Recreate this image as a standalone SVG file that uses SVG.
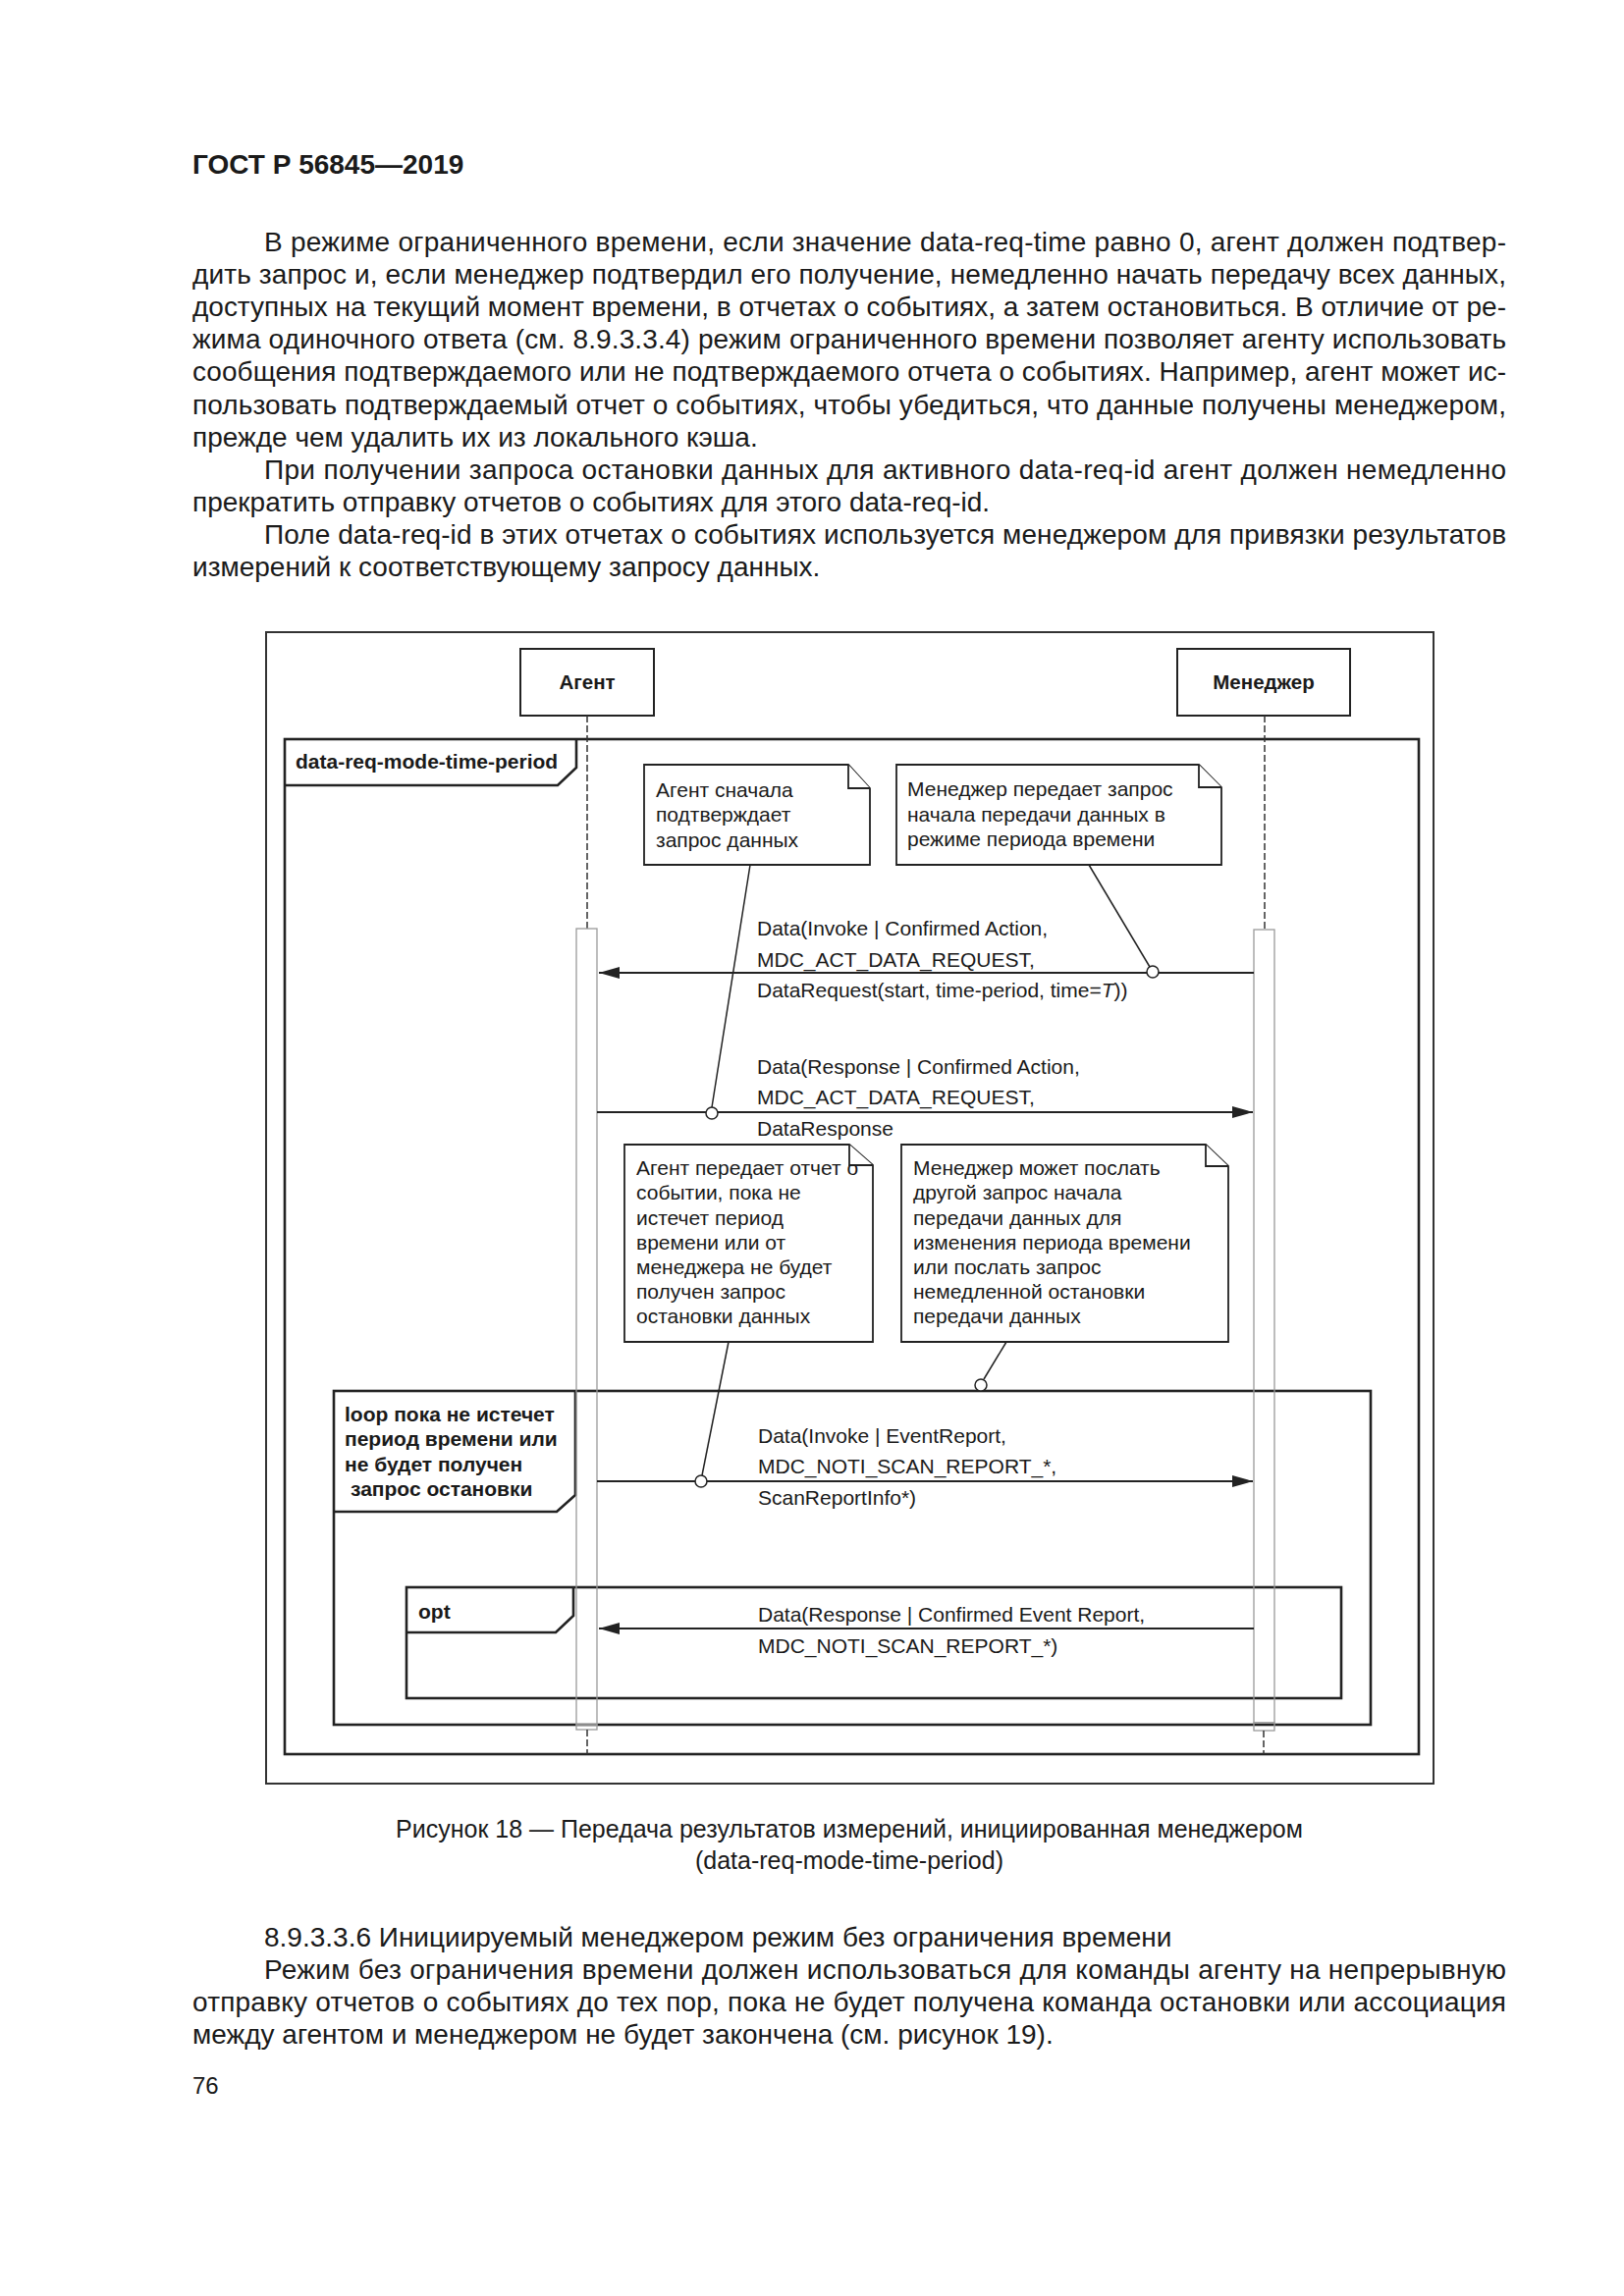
<svg xmlns="http://www.w3.org/2000/svg" width="1654" height="2339" viewBox="0 0 1654 2339">
<defs>
<style>
.body{font-family:"Liberation Sans",Arial,sans-serif;font-size:28px;fill:#1a1a1a}
.hdr{font-family:"Liberation Sans",Arial,sans-serif;font-size:28px;font-weight:bold;fill:#1a1a1a}
.cap{font-family:"Liberation Sans",Arial,sans-serif;font-size:25px;fill:#1a1a1a}
.pg{font-family:"Liberation Sans",Arial,sans-serif;font-size:24px;fill:#1a1a1a}
.lbl{font-family:"Liberation Sans",Arial,sans-serif;font-size:21px;fill:#1a1a1a}
.note{font-family:"Liberation Sans",Arial,sans-serif;font-size:21px;fill:#1a1a1a}
.bold{font-family:"Liberation Sans",Arial,sans-serif;font-size:21px;font-weight:bold;fill:#1a1a1a}
.name{font-family:"Liberation Sans",Arial,sans-serif;font-size:20.5px;font-weight:bold;fill:#1a1a1a}
.frame{fill:none;stroke:#222;stroke-width:2.6}
.outer{fill:none;stroke:#333;stroke-width:2}
.box{fill:#fff;stroke:#222;stroke-width:2}
.notebox{fill:#fff;stroke:#222;stroke-width:1.8}
.life{stroke:#333;stroke-width:1.5;stroke-dasharray:7 3;fill:none}
.act{fill:none;stroke:#9a9a9a;stroke-width:1.3}
.msg{stroke:#222;stroke-width:2.2;fill:none}
.link{stroke:#222;stroke-width:1.5;fill:none}
.dot{fill:#fff;stroke:#222;stroke-width:1.5}
</style>
<marker id="arrow" viewBox="0 0 21 12" refX="21" refY="6" markerWidth="21" markerHeight="12" markerUnits="userSpaceOnUse" orient="auto">
<path d="M0,0 L21,6 L0,12 Z" fill="#222"/>
</marker>
</defs>
<rect width="1654" height="2339" fill="#fff"/>

<g id="page-text">
<text class="hdr" x="196" y="177">ГОСТ Р 56845—2019</text>
<text class="body" x="269" y="256" textLength="1265" lengthAdjust="spacing">В режиме ограниченного времени, если значение data-req-time равно 0, агент должен подтвер-</text>
<text class="body" x="196" y="289" textLength="1338" lengthAdjust="spacing">дить запрос и, если менеджер подтвердил его получение, немедленно начать передачу всех данных,</text>
<text class="body" x="196" y="322" textLength="1338" lengthAdjust="spacing">доступных на текущий момент времени, в отчетах о событиях, а затем остановиться. В отличие от ре-</text>
<text class="body" x="196" y="355" textLength="1338" lengthAdjust="spacing">жима одиночного ответа (см. 8.9.3.3.4) режим ограниченного времени позволяет агенту использовать</text>
<text class="body" x="196" y="388" textLength="1338" lengthAdjust="spacing">сообщения подтверждаемого или не подтверждаемого отчета о событиях. Например, агент может ис-</text>
<text class="body" x="196" y="422" textLength="1338" lengthAdjust="spacing">пользовать подтверждаемый отчет о событиях, чтобы убедиться, что данные получены менеджером,</text>
<text class="body" x="196" y="455">прежде чем удалить их из локального кэша.</text>
<text class="body" x="269" y="488" textLength="1265" lengthAdjust="spacing">При получении запроса остановки данных для активного data-req-id агент должен немедленно</text>
<text class="body" x="196" y="521">прекратить отправку отчетов о событиях для этого data-req-id.</text>
<text class="body" x="269" y="554" textLength="1265" lengthAdjust="spacing">Поле data-req-id в этих отчетах о событиях используется менеджером для привязки результатов</text>
<text class="body" x="196" y="587">измерений к соответствующему запросу данных.</text>

<text class="cap" x="865" y="1872" text-anchor="middle">Рисунок 18 — Передача результатов измерений, инициированная менеджером</text>
<text class="cap" x="865" y="1904" text-anchor="middle">(data-req-mode-time-period)</text>

<text class="body" x="269" y="1983">8.9.3.3.6 Инициируемый менеджером режим без ограничения времени</text>
<text class="body" x="269" y="2016" textLength="1265" lengthAdjust="spacing">Режим без ограничения времени должен использоваться для команды агенту на непрерывную</text>
<text class="body" x="196" y="2049" textLength="1338" lengthAdjust="spacing">отправку отчетов о событиях до тех пор, пока не будет получена команда остановки или ассоциация</text>
<text class="body" x="196" y="2082">между агентом и менеджером не будет закончена (см. рисунок 19).</text>
<text class="pg" x="196" y="2133">76</text>
</g>

<g id="frame-outer">
<rect class="outer" x="271" y="644" width="1189" height="1173"/>
</g>

<g id="frame-data-req">
<rect class="frame" x="290" y="753" width="1155" height="1034"/>
<path class="frame" d="M290,800 H568 L587,782 V753"/>
<text class="bold" x="301" y="783">data-req-mode-time-period</text>
</g>

<g id="frame-loop">
<rect class="frame" x="340" y="1417" width="1056" height="340"/>
<path class="frame" d="M340,1540 H567 L586,1523 V1417"/>
<text class="bold" x="351" y="1448">loop пока не истечет</text>
<text class="bold" x="351" y="1473">период времени или</text>
<text class="bold" x="351" y="1499">не будет получен</text>
<text class="bold" x="357" y="1524">запрос остановки</text>
</g>

<g id="frame-opt">
<rect class="frame" x="414" y="1617" width="952" height="113"/>
<path class="frame" d="M414,1663 H566 L584,1646 V1617"/>
<text class="bold" x="426" y="1649">opt</text>
</g>

<g id="node-agent">
<rect class="box" x="530" y="661" width="136" height="68"/>
<text class="name" x="598" y="702" text-anchor="middle">Агент</text>
<line class="life" x1="598" y1="729" x2="598" y2="946"/>
<rect class="act" x="587" y="946" width="21" height="811"/>
<rect class="act" x="587" y="1757" width="21" height="5"/>
<line class="life" x1="598" y1="1762" x2="598" y2="1787"/>
</g>

<g id="node-manager">
<rect class="box" x="1199" y="661" width="176" height="68"/>
<text class="name" x="1287" y="702" text-anchor="middle">Менеджер</text>
<line class="life" x1="1288" y1="729" x2="1288" y2="947"/>
<rect class="act" x="1277" y="947" width="21" height="808"/>
<rect class="act" x="1277" y="1755" width="21" height="8"/>
<line class="life" x1="1287" y1="1763" x2="1287" y2="1787"/>
</g>

<g id="note-1">
<path class="notebox" d="M656,779 H864 L886,803 V881 H656 Z"/>
<path class="notebox" d="M864,779 V803 H886" fill="none"/>
<text class="note" x="668" y="812">Агент сначала</text>
<text class="note" x="668" y="837">подтверждает</text>
<text class="note" x="668" y="863">запрос данных</text>
</g>

<g id="note-2">
<path class="notebox" d="M913,779 H1221 L1244,802 V881 H913 Z"/>
<path class="notebox" d="M1221,779 V802 H1244" fill="none"/>
<text class="note" x="924" y="811">Менеджер передает запрос</text>
<text class="note" x="924" y="837">начала передачи данных в</text>
<text class="note" x="924" y="862">режиме периода времени</text>
</g>

<g id="note-3">
<path class="notebox" d="M636,1166 H865 L889,1187 V1367 H636 Z"/>
<path class="notebox" d="M865,1166 V1187 H889" fill="none"/>
<text class="note" x="648" y="1197">Агент передает отчет о</text>
<text class="note" x="648" y="1222">событии, пока не</text>
<text class="note" x="648" y="1248">истечет период</text>
<text class="note" x="648" y="1273">времени или от</text>
<text class="note" x="648" y="1298">менеджера не будет</text>
<text class="note" x="648" y="1323">получен запрос</text>
<text class="note" x="648" y="1348">остановки данных</text>
</g>

<g id="note-4">
<path class="notebox" d="M918,1166 H1228 L1251,1188 V1367 H918 Z"/>
<path class="notebox" d="M1228,1166 V1188 H1251" fill="none"/>
<text class="note" x="930" y="1197">Менеджер может послать</text>
<text class="note" x="930" y="1222">другой запрос начала</text>
<text class="note" x="930" y="1248">передачи данных для</text>
<text class="note" x="930" y="1273">изменения периода времени</text>
<text class="note" x="930" y="1298">или послать запрос</text>
<text class="note" x="930" y="1323">немедленной остановки</text>
<text class="note" x="930" y="1348">передачи данных</text>
</g>

<g id="connectors">
<line class="msg" x1="1277" y1="991" x2="610" y2="991" marker-end="url(#arrow)"/>
<text class="lbl" x="771" y="953">Data(Invoke | Confirmed Action,</text>
<text class="lbl" x="771" y="985">MDC_ACT_DATA_REQUEST,</text>
<text class="lbl" x="771" y="1016">DataRequest(start, time-period, time=<tspan font-style="italic">T</tspan>))</text>

<line class="msg" x1="608" y1="1133" x2="1276" y2="1133" marker-end="url(#arrow)"/>
<text class="lbl" x="771" y="1094">Data(Response | Confirmed Action,</text>
<text class="lbl" x="771" y="1125">MDC_ACT_DATA_REQUEST,</text>
<text class="lbl" x="771" y="1157">DataResponse</text>

<line class="msg" x1="608" y1="1509" x2="1276" y2="1509" marker-end="url(#arrow)"/>
<text class="lbl" x="772" y="1470">Data(Invoke | EventReport,</text>
<text class="lbl" x="772" y="1501">MDC_NOTI_SCAN_REPORT_*,</text>
<text class="lbl" x="772" y="1533">ScanReportInfo*)</text>

<line class="msg" x1="1277" y1="1659" x2="610" y2="1659" marker-end="url(#arrow)"/>
<text class="lbl" x="772" y="1652">Data(Response | Confirmed Event Report,</text>
<text class="lbl" x="772" y="1684">MDC_NOTI_SCAN_REPORT_*)</text>

<line class="link" x1="764" y1="881" x2="725" y2="1128"/>
<circle class="dot" cx="725" cy="1134" r="6"/>
<line class="link" x1="1109" y1="881" x2="1171" y2="985"/>
<circle class="dot" cx="1174" cy="990" r="6"/>
<line class="link" x1="742" y1="1367" x2="715" y2="1503"/>
<circle class="dot" cx="714" cy="1509" r="6"/>
<line class="link" x1="1025" y1="1367" x2="1002" y2="1405"/>
<circle class="dot" cx="999" cy="1411" r="6"/>
</g>
</svg>
